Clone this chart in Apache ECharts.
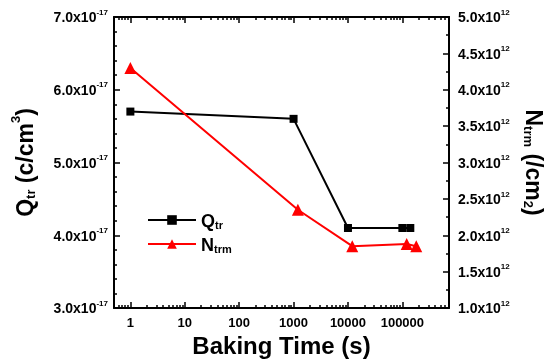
<!DOCTYPE html>
<html>
<head>
<meta charset="utf-8">
<script src="https://cdn.jsdelivr.net/npm/echarts@6/dist/echarts.min.js"></script>
<style>
html,body{margin:0;padding:0;background:#fff;}
#container{width:548px;height:360px;}
</style>
</head>
<body>
<div id="container"></div>
<script>
// baking time (s) and values
var qTime = [1, 1000, 10000, 100000, 140000];
var qVal = [5.7e-17, 5.6e-17, 4.1e-17, 4.1e-17, 4.1e-17];
var nTime = [1, 1200, 12000, 120000, 180000];
var nVal = [4.3e12, 2.35e12, 1.85e12, 1.88e12, 1.85e12];
var xTickLabels = ['1', '10', '100', '1000', '10000', '100000'];
var leftExp = -17;
var rightExp = 12;

var FONT = '"Liberation Sans", Arial, sans-serif';

function pairs(xs, ys) {
    var out = [];
    for (var i = 0; i < xs.length; i++) {
        out.push([xs[i], ys[i]]);
    }
    return out;
}

// 6.0x10^-17 style label
function sciLabel(exp) {
    return function (v) {
        var m = (v / Math.pow(10, exp)).toFixed(1);
        return '{m|' + m + 'x10}{e|' + exp + '}';
    };
}

var sciRich = {
    m: {fontFamily: FONT, fontWeight: 'bold', fontSize: 14, lineHeight: 17, verticalAlign: 'bottom', color: '#000'},
    e: {fontFamily: FONT, fontWeight: 'bold', fontSize: 8, lineHeight: 9, verticalAlign: 'top', color: '#000'}
};

function nameRich(supAlign) {
    return {
        a: {fontFamily: FONT, fontWeight: 'bold', fontSize: 23, lineHeight: 28, verticalAlign: 'bottom', color: '#000'},
        b: {fontFamily: FONT, fontWeight: 'bold', fontSize: 13, lineHeight: 13, verticalAlign: 'bottom', color: '#000'},
        c: {fontFamily: FONT, fontWeight: 'bold', fontSize: 13, lineHeight: 13, verticalAlign: supAlign, color: '#000'}
    };
}

var axisLine = {show: true, onZero: false, lineStyle: {color: '#000', width: 2}};

function logX(pos, showLabel) {
    return {
        type: 'log',
        logBase: 10,
        position: pos,
        min: 0.5,
        max: 720000,
        axisLine: axisLine,
        splitLine: {show: false},
        axisTick: {show: true, inside: true, length: 6, lineStyle: {color: '#000', width: 1.5}},
        minorTick: {show: true, splitNumber: 9, length: 3, lineStyle: {color: '#000', width: 1.5}},
        axisLabel: {
            show: showLabel,
            showMinLabel: false,
            showMaxLabel: false,
            margin: 9,
            fontFamily: FONT,
            fontWeight: 'bold',
            fontSize: 13,
            color: '#000',
            formatter: function (v) {
                var s = String(Math.round(v));
                return xTickLabels.indexOf(s) >= 0 ? s : '';
            }
        }
    };
}

var dom = document.getElementById('container');
var myChart = echarts.init(dom, null, {renderer: 'canvas'});

var xBottom = logX('bottom', true);
xBottom.name = 'Baking Time (s)';
xBottom.nameLocation = 'middle';
xBottom.nameGap = 23;
xBottom.nameTextStyle = {fontFamily: FONT, fontWeight: 'bold', fontSize: 24, color: '#000'};

var option = {
    backgroundColor: '#fff',
    animation: false,
    grid: {left: 114, right: 99, top: 17, bottom: 52, outerBoundsMode: 'none', containLabel: false},
    legend: {
        left: 142,
        top: 208,
        orient: 'vertical',
        itemWidth: 48,
        itemHeight: 12,
        itemGap: 6,
        formatter: function (name) {
            return name == 'Qtr' ? '{a|Q}{b|tr}' : '{a|N}{b|trm}';
        },
        textStyle: {
            rich: {
                a: {fontFamily: FONT, fontWeight: 'bold', fontSize: 18, lineHeight: 22, verticalAlign: 'bottom', color: '#000'},
                b: {fontFamily: FONT, fontWeight: 'bold', fontSize: 11, lineHeight: 11, verticalAlign: 'bottom', color: '#000'}
            }
        },
        data: ['Qtr', 'Ntrm']
    },
    xAxis: [xBottom, logX('top', false)],
    yAxis: [
        {
            type: 'value',
            position: 'left',
            min: 3e-17,
            max: 7e-17,
            interval: 1e-17,
            name: '{a|Q}{b|tr}{a| (c/cm}{c|3}{a|)}',
            nameLocation: 'middle',
            nameRotate: 90,
            nameGap: 76,
            nameTextStyle: {rich: nameRich('top')},
            axisLine: axisLine,
            splitLine: {show: false},
            axisTick: {show: true, inside: true, length: 6, lineStyle: {color: '#000', width: 1.5}},
            minorTick: {show: true, splitNumber: 5, length: 3, lineStyle: {color: '#000', width: 1.5}},
            axisLabel: {margin: 6, formatter: sciLabel(leftExp), rich: sciRich}
        },
        {
            type: 'value',
            position: 'right',
            min: 1e12,
            max: 5e12,
            interval: 0.5e12,
            name: '{a|N}{b|trm}{a| (/cm}{c|2}{a|)}',
            nameLocation: 'middle',
            nameRotate: -90,
            nameGap: 68,
            nameTextStyle: {rich: nameRich('bottom')},
            axisLine: axisLine,
            splitLine: {show: false},
            axisTick: {show: true, inside: true, length: 6, lineStyle: {color: '#000', width: 1.5}},
            minorTick: {show: true, splitNumber: 2, length: 3, lineStyle: {color: '#000', width: 1.5}},
            axisLabel: {margin: 9, formatter: sciLabel(rightExp), rich: sciRich}
        }
    ],
    series: [
        {
            name: 'Qtr',
            type: 'line',
            xAxisIndex: 0,
            yAxisIndex: 0,
            data: pairs(qTime, qVal),
            symbol: 'rect',
            symbolSize: 8,
            color: '#000',
            lineStyle: {color: '#000', width: 2},
            itemStyle: {color: '#000'}
        },
        {
            name: 'Ntrm',
            type: 'line',
            xAxisIndex: 0,
            yAxisIndex: 1,
            data: pairs(nTime, nVal),
            symbol: 'triangle',
            symbolSize: 12,
            color: '#ff0000',
            lineStyle: {color: '#ff0000', width: 2},
            itemStyle: {color: '#ff0000'}
        }
    ]
};

myChart.setOption(option, true);
</script>
</body>
</html>
